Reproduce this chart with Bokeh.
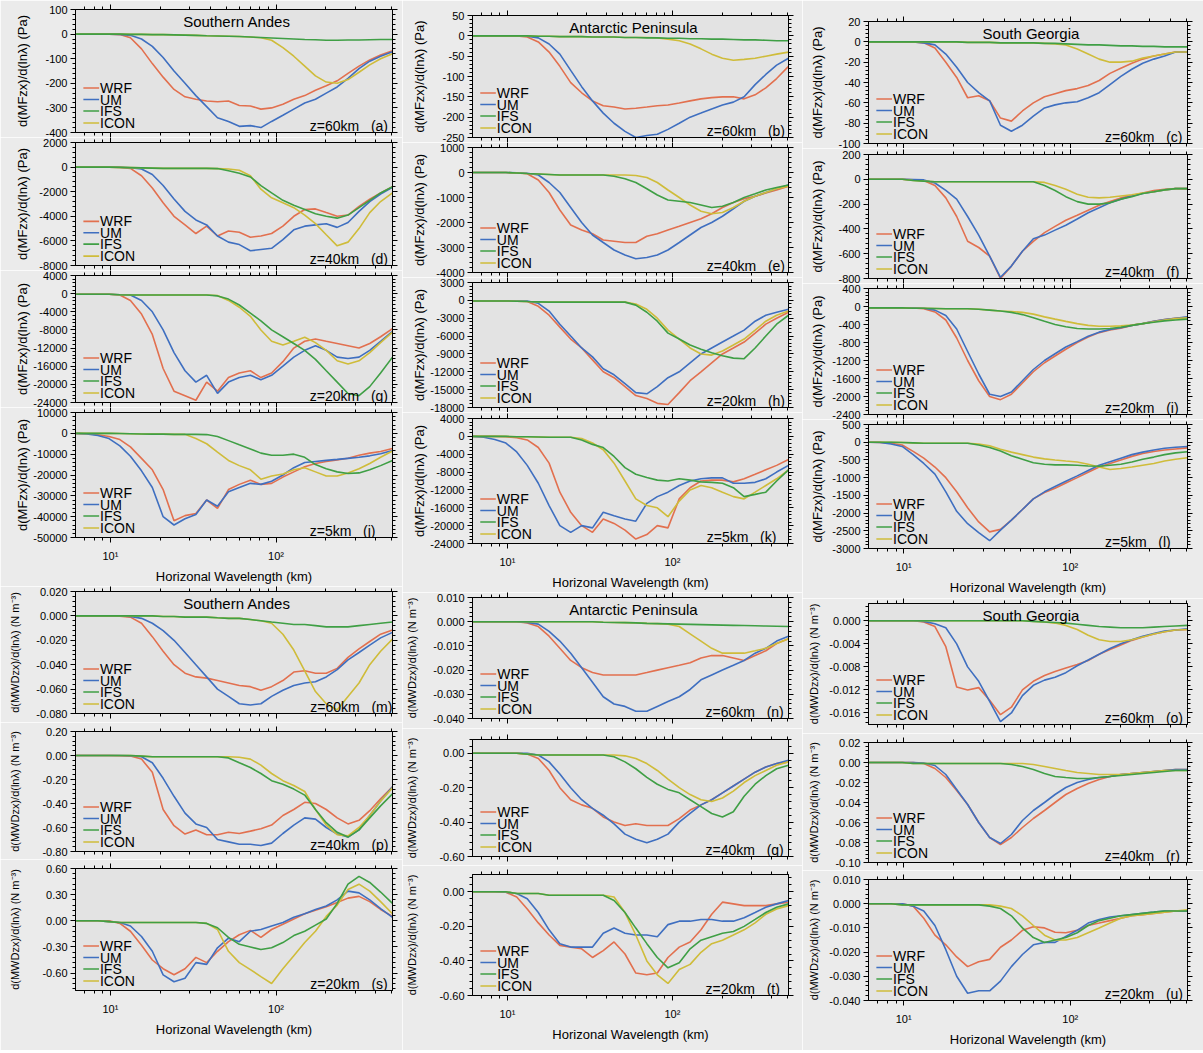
import math

from bokeh.core.properties import value
from bokeh.embed import file_html
from bokeh.layouts import column, row
from bokeh.models import (CustomJSTickFormatter, FixedTicker, LinearAxis, LinearScale,
                          LogAxis, NumeralTickFormatter, Range1d)
from bokeh.plotting import figure
from bokeh.resources import INLINE

# ---------------------------------------------------------------------------
# Data: spectra of zonal momentum flux (MF) and momentum-flux divergence (MWD)
# sampled at these horizontal wavelengths (km)
# ---------------------------------------------------------------------------
wavelength_km = [6.2, 7.2, 8.4, 9.8, 11.4, 13.2, 15.4, 17.9, 20.8, 24.2,
                 28.2, 32.8, 38.1, 44.3, 51.6, 60, 70, 81, 94, 110,
                 128, 149, 173, 201, 234, 272, 317, 368, 428, 505]

models = ["WRF", "UM", "IFS", "ICON"]
regions = ["Southern Andes", "Antarctic Peninsula", "South Georgia"]
x_tick_labels = {10: "10\u00b9", 100: "10\u00b2"}

# (a) Southern Andes, MF, z=60km
a_wrf = [0, 0, 0, 0, -2, -15, -60, -120, -175, -225, -255, -265, -272, -275, -272, -290, -292, -305, -300, -285, -265, -250, -228, -210, -190, -160, -130, -105, -85, -68]
a_um = [0, 0, 0, 0, -1, -5, -20, -50, -95, -150, -200, -250, -295, -340, -355, -375, -372, -380, -355, -330, -305, -280, -265, -240, -215, -180, -140, -110, -90, -72]
a_ifs = [0, 0, 0, 0, 0, -1, -1, -2, -2, -3, -4, -5, -7, -8, -9, -10, -12, -14, -16, -18, -20, -22, -23, -25, -25, -24, -24, -23, -22, -22]
a_icon = [0, 0, 0, 0, 0, -1, -1, -2, -2, -3, -4, -5, -7, -8, -9, -10, -12, -15, -25, -55, -90, -130, -170, -195, -200, -185, -155, -125, -100, -80]

# (d) Southern Andes, MF, z=40km
d_wrf = [0, 0, 0, 0, -20, -100, -700, -1700, -2900, -4000, -4700, -5400, -4800, -5600, -5200, -5300, -5700, -5600, -5400, -4800, -4000, -3450, -3400, -3700, -4000, -3900, -3200, -2600, -2100, -1600]
d_um = [0, 0, 0, 0, -10, -50, -150, -600, -1500, -2600, -3600, -4300, -4700, -5600, -6100, -6300, -6800, -6700, -6600, -5900, -5100, -4800, -4700, -4600, -4900, -4500, -3600, -2800, -2200, -1650]
d_ifs = [0, 0, 0, 0, -20, -40, -60, -80, -100, -100, -100, -100, -100, -120, -300, -500, -800, -1500, -2100, -2700, -3100, -3450, -3800, -4000, -4150, -3900, -3300, -2700, -2100, -1600]
d_icon = [0, 0, 0, 0, -20, -40, -60, -80, -100, -100, -100, -100, -100, -120, -150, -250, -700, -1800, -2500, -2900, -3300, -3900, -4600, -5500, -6400, -6100, -5000, -3700, -2800, -2100]

# (g) Southern Andes, MF, z=20km
g_wrf = [-150, -150, -150, -150, -300, -1500, -4500, -9000, -16500, -21500, -22500, -23500, -19500, -21500, -18500, -17500, -17000, -18500, -17500, -15000, -12000, -10500, -10000, -10500, -11000, -11500, -12000, -11000, -9500, -7700]
g_um = [-150, -150, -150, -150, -250, -300, -1500, -4000, -8000, -13000, -17000, -19500, -18000, -22000, -19500, -18500, -18000, -19000, -18000, -16000, -14000, -12500, -11500, -12500, -14000, -14300, -14000, -12500, -10500, -8300]
g_ifs = [-150, -150, -150, -150, -250, -300, -300, -300, -300, -300, -300, -300, -300, -500, -1200, -2500, -4300, -6000, -8000, -9500, -11000, -12500, -14500, -17000, -19500, -22000, -22500, -20500, -17500, -14000]
g_icon = [-150, -150, -150, -150, -250, -300, -300, -300, -300, -300, -300, -300, -300, -400, -1500, -3000, -5000, -8000, -10500, -11300, -10500, -9600, -10800, -12500, -14800, -15500, -14800, -13000, -10800, -8500]

# (j) Southern Andes, MF, z=5km
j_wrf = [0, -200, -700, -1500, -3000, -6500, -12000, -17500, -27000, -42000, -39500, -38500, -32000, -36000, -27000, -24500, -22500, -24500, -24000, -21000, -18500, -16000, -14500, -13500, -12800, -12000, -10500, -9500, -8700, -7300]
j_um = [0, -300, -1000, -2500, -6000, -11000, -18000, -26000, -40000, -44000, -41000, -39000, -32000, -35000, -28000, -26000, -24000, -24500, -23000, -20000, -16500, -14000, -13500, -13000, -12500, -12000, -11500, -10800, -9800, -8200]
j_ifs = [0, 0, 0, 0, -100, -200, -300, -400, -400, -500, -500, -500, -600, -1500, -3500, -5500, -7500, -9500, -10500, -10500, -10000, -11500, -15000, -17000, -18500, -19300, -19000, -17500, -15500, -13000]
j_icon = [0, 0, 0, 0, -100, -200, -300, -400, -400, -500, -500, -2500, -5000, -9000, -13000, -15500, -17500, -22000, -20500, -19500, -17500, -16500, -18500, -20500, -20500, -19000, -17000, -14500, -11500, -8500]

# (b) Antarctic Peninsula, MF, z=60km
b_wrf = [0, 0, 0, 0, 0, -3, -15, -40, -75, -115, -140, -160, -172, -175, -180, -178, -175, -172, -170, -165, -160, -155, -152, -150, -150, -155, -145, -128, -105, -75]
b_um = [0, 0, 0, 0, 0, -1, -5, -20, -45, -85, -125, -160, -190, -215, -235, -250, -245, -242, -230, -215, -200, -190, -180, -170, -163, -150, -120, -95, -72, -55]
b_ifs = [0, 0, 0, 0, 0, 0, -1, -1, -2, -2, -2, -3, -3, -3, -4, -4, -5, -5, -6, -6, -7, -7, -8, -8, -9, -10, -10, -11, -12, -12]
b_icon = [0, 0, 0, 0, 0, 0, -1, -1, -2, -2, -2, -3, -3, -3, -4, -4, -4, -5, -8, -12, -20, -32, -45, -55, -60, -58, -55, -50, -45, -40]

# (e) Antarctic Peninsula, MF, z=40km
e_wrf = [0, 0, 0, 0, -20, -50, -300, -800, -1500, -2100, -2300, -2450, -2700, -2750, -2800, -2800, -2550, -2450, -2300, -2150, -2000, -1850, -1650, -1400, -1200, -1050, -950, -820, -700, -550]
e_um = [0, 0, 0, 0, -10, -30, -100, -400, -800, -1400, -2000, -2500, -2800, -3100, -3300, -3450, -3400, -3300, -3100, -2800, -2500, -2200, -2000, -1750, -1450, -1150, -950, -800, -650, -500]
e_ifs = [0, 0, 0, 0, -20, -40, -60, -80, -100, -100, -100, -100, -100, -150, -250, -400, -650, -900, -1100, -1150, -1200, -1300, -1400, -1350, -1200, -1000, -850, -700, -600, -500]
e_icon = [0, 0, 0, 0, -20, -40, -60, -80, -100, -100, -100, -100, -100, -100, -100, -120, -200, -400, -700, -1000, -1300, -1550, -1650, -1600, -1400, -1150, -950, -800, -650, -550]

# (h) Antarctic Peninsula, MF, z=20km
h_wrf = [-100, -100, -100, -100, -150, -200, -1000, -2500, -4500, -6500, -8000, -10000, -12000, -13000, -14500, -16000, -16500, -17300, -17500, -15500, -13500, -12000, -10500, -9000, -8000, -7000, -5500, -4000, -3000, -2000]
h_um = [-100, -100, -100, -100, -100, -100, -500, -1800, -4000, -6000, -8000, -9500, -11500, -12500, -14000, -15500, -15700, -14500, -13000, -12000, -10500, -9000, -8000, -7000, -6000, -5000, -3500, -2500, -2000, -1500]
h_ifs = [-100, -100, -100, -100, -150, -200, -250, -300, -300, -300, -300, -300, -300, -300, -300, -800, -2000, -3500, -5500, -6500, -7500, -8200, -8800, -9300, -9700, -9800, -8000, -6000, -4000, -2500]
h_icon = [-100, -100, -100, -100, -150, -200, -250, -300, -300, -300, -300, -300, -300, -300, -300, -600, -1500, -3000, -5000, -6500, -8000, -9000, -9200, -8500, -7500, -6500, -5000, -3500, -2500, -1800]

# (k) Antarctic Peninsula, MF, z=5km
k_wrf = [0, 0, 0, -100, -300, -800, -2500, -6000, -12500, -17000, -20000, -21500, -18500, -19500, -21000, -23000, -22000, -20000, -20500, -14000, -11500, -10000, -9800, -9800, -10200, -9500, -8500, -7500, -6500, -5200]
k_um = [0, -200, -700, -1500, -3500, -6500, -10500, -15500, -20000, -21500, -20000, -20500, -17000, -17800, -18500, -19000, -15000, -13500, -12500, -11000, -10000, -9500, -9300, -9300, -10500, -10500, -10300, -9500, -8000, -6500]
k_ifs = [0, 0, 0, 0, -100, -100, -150, -200, -200, -200, -800, -1800, -2500, -4500, -7000, -8500, -9200, -9800, -10000, -9500, -9800, -10200, -10300, -10500, -11500, -13500, -13000, -12500, -10000, -7500]
k_icon = [0, 0, 0, 0, -100, -100, -150, -200, -200, -200, -500, -1500, -3000, -6000, -10000, -14000, -15500, -16000, -18000, -14500, -12000, -11000, -11500, -12500, -13500, -14000, -12500, -11000, -9500, -7500]

# (c) South Georgia, MF, z=60km
c_wrf = [0, 0, 0, 0, 0, -1, -6, -20, -35, -55, -53, -58, -75, -78, -68, -60, -54, -51, -48, -46, -43, -38, -31, -26, -21, -17, -14, -12, -10, -10]
c_um = [0, 0, 0, 0, 0, -1, -3, -12, -25, -40, -50, -58, -82, -88, -82, -73, -65, -62, -60, -59, -55, -50, -42, -34, -27, -21, -17, -14, -10, -10]
c_ifs = [0, 0, 0, 0, 0, 0, 0, 0, 0, -0.5, -0.5, -0.5, -1, -1, -1, -1, -1.5, -1.5, -2, -2.5, -3, -3, -3.5, -4, -4, -4.5, -4.5, -5, -5, -5]
c_icon = [0, 0, 0, 0, 0, 0, 0, 0, 0, -0.5, -0.5, -0.5, -1, -1, -1, -1, -1.5, -2, -3, -7, -12, -17, -20, -20, -19, -16, -14, -12, -10, -10]

# (f) South Georgia, MF, z=40km
f_wrf = [0, 0, 0, 0, -5, -10, -50, -150, -300, -500, -550, -620, -800, -700, -580, -500, -430, -380, -330, -290, -250, -210, -180, -150, -130, -110, -90, -80, -75, -75]
f_um = [0, 0, 0, 0, -2, -5, -30, -90, -160, -300, -450, -620, -790, -700, -580, -480, -450, -410, -370, -320, -270, -230, -190, -160, -135, -115, -100, -85, -75, -75]
f_ifs = [0, 0, 0, 0, -10, -15, -20, -20, -20, -20, -20, -20, -20, -20, -20, -20, -50, -90, -140, -180, -200, -200, -190, -160, -140, -115, -100, -85, -75, -75]
f_icon = [0, 0, 0, 0, -10, -15, -20, -20, -20, -20, -20, -20, -20, -20, -20, -20, -25, -50, -80, -120, -145, -150, -145, -135, -125, -110, -100, -85, -75, -75]

# (i) South Georgia, MF, z=20km
i_wrf = [-30, -30, -30, -30, -30, -50, -120, -300, -700, -1200, -1650, -2000, -2070, -1950, -1700, -1450, -1250, -1100, -950, -800, -680, -580, -520, -480, -420, -380, -330, -290, -260, -240]
i_um = [-30, -30, -30, -30, -30, -40, -80, -200, -500, -1000, -1500, -1950, -2000, -1900, -1650, -1400, -1200, -1050, -900, -780, -660, -570, -510, -470, -420, -380, -330, -290, -260, -230]
i_ifs = [-30, -30, -30, -30, -40, -40, -45, -50, -50, -50, -60, -80, -100, -130, -180, -250, -330, -400, -450, -490, -500, -500, -490, -460, -420, -380, -350, -320, -300, -280]
i_icon = [-30, -30, -30, -30, -40, -40, -45, -50, -50, -50, -60, -80, -100, -110, -130, -170, -230, -280, -330, -380, -420, -440, -440, -430, -410, -380, -340, -300, -270, -250]

# (l) South Georgia, MF, z=5km
l_wrf = [0, -5, -30, -80, -260, -450, -700, -1000, -1400, -1850, -2250, -2530, -2460, -2200, -1900, -1600, -1420, -1300, -1150, -1000, -850, -700, -600, -500, -400, -320, -260, -220, -190, -160]
l_um = [0, -10, -50, -120, -350, -600, -900, -1400, -1950, -2300, -2550, -2780, -2480, -2200, -1900, -1600, -1400, -1250, -1100, -950, -800, -650, -550, -450, -350, -280, -220, -170, -140, -120]
l_ifs = [0, 0, 0, -10, -20, -30, -30, -30, -30, -30, -80, -150, -250, -380, -480, -580, -620, -640, -640, -650, -670, -680, -650, -620, -560, -480, -420, -350, -300, -270]
l_icon = [0, 0, 0, -10, -20, -30, -30, -30, -30, -30, -50, -100, -200, -280, -350, -420, -470, -500, -530, -560, -620, -700, -770, -740, -700, -650, -600, -530, -480, -440]

# (m) Southern Andes, MWD, z=60km
m_wrf = [0, 0, 0, 0, -0.0003, -0.001, -0.006, -0.017, -0.029, -0.040, -0.047, -0.050, -0.051, -0.053, -0.055, -0.057, -0.058, -0.061, -0.058, -0.053, -0.046, -0.045, -0.047, -0.047, -0.043, -0.034, -0.027, -0.021, -0.015, -0.0115]
m_um = [0, 0, 0, 0, 0, -0.0005, -0.002, -0.006, -0.012, -0.020, -0.030, -0.040, -0.050, -0.060, -0.066, -0.072, -0.073, -0.072, -0.066, -0.061, -0.057, -0.055, -0.054, -0.050, -0.044, -0.036, -0.030, -0.024, -0.018, -0.0135]
m_ifs = [0, 0, 0, 0, 0, 0, 0, 0, -0.0005, -0.0005, -0.001, -0.001, -0.001, -0.0015, -0.002, -0.002, -0.003, -0.004, -0.005, -0.006, -0.007, -0.007, -0.008, -0.009, -0.009, -0.009, -0.008, -0.007, -0.006, -0.005]
m_icon = [0, 0, 0, 0, 0, 0, 0, 0, -0.0005, -0.0005, -0.001, -0.001, -0.001, -0.0015, -0.002, -0.002, -0.003, -0.004, -0.006, -0.015, -0.028, -0.045, -0.062, -0.072, -0.077, -0.066, -0.055, -0.040, -0.029, -0.019]

# (p) Southern Andes, MWD, z=40km
p_wrf = [0, 0, 0, 0, -0.002, -0.005, -0.03, -0.14, -0.45, -0.585, -0.655, -0.62, -0.66, -0.66, -0.64, -0.65, -0.63, -0.61, -0.58, -0.50, -0.45, -0.39, -0.40, -0.45, -0.52, -0.57, -0.54, -0.46, -0.36, -0.26]
p_um = [0, 0, 0, 0, 0, -0.002, -0.01, -0.06, -0.19, -0.34, -0.48, -0.57, -0.60, -0.70, -0.72, -0.74, -0.74, -0.75, -0.73, -0.65, -0.58, -0.52, -0.53, -0.60, -0.655, -0.68, -0.62, -0.50, -0.38, -0.26]
p_ifs = [0, 0, 0, 0, 0, 0, -0.005, -0.01, -0.01, -0.01, -0.01, -0.01, -0.01, -0.01, -0.02, -0.06, -0.10, -0.15, -0.21, -0.24, -0.28, -0.33, -0.45, -0.56, -0.64, -0.68, -0.62, -0.52, -0.42, -0.32]
p_icon = [0, 0, 0, 0, 0, 0, -0.005, -0.01, -0.01, -0.01, -0.01, -0.01, -0.01, -0.01, -0.01, -0.015, -0.03, -0.08, -0.15, -0.21, -0.25, -0.30, -0.45, -0.58, -0.66, -0.67, -0.60, -0.50, -0.38, -0.27]

# (s) Southern Andes, MWD, z=20km
s_wrf = [0, 0, 0, 0, -0.03, -0.12, -0.28, -0.45, -0.55, -0.62, -0.55, -0.42, -0.48, -0.35, -0.24, -0.16, -0.11, -0.19, -0.10, -0.04, 0.02, 0.08, 0.12, 0.16, 0.21, 0.26, 0.28, 0.22, 0.13, 0.05]
s_um = [0, 0, 0, -0.01, -0.02, -0.06, -0.18, -0.35, -0.62, -0.70, -0.66, -0.48, -0.50, -0.31, -0.20, -0.24, -0.12, -0.10, -0.06, -0.02, 0.04, 0.08, 0.13, 0.17, 0.24, 0.34, 0.32, 0.24, 0.14, 0.04]
s_ifs = [0, 0, 0, -0.01, -0.02, -0.02, -0.02, -0.02, -0.02, -0.02, -0.02, -0.02, -0.03, -0.08, -0.19, -0.27, -0.30, -0.33, -0.31, -0.25, -0.17, -0.12, -0.05, 0.02, 0.20, 0.42, 0.51, 0.44, 0.33, 0.20]
s_icon = [0, 0, 0, -0.01, -0.02, -0.02, -0.02, -0.02, -0.02, -0.02, -0.02, -0.02, -0.03, -0.10, -0.35, -0.48, -0.56, -0.64, -0.72, -0.55, -0.40, -0.25, -0.12, 0.05, 0.18, 0.36, 0.42, 0.34, 0.22, 0.08]

# (n) Antarctic Peninsula, MWD, z=60km
n_wrf = [0, 0, 0, 0, 0, -0.0005, -0.002, -0.006, -0.011, -0.016, -0.019, -0.021, -0.022, -0.022, -0.022, -0.022, -0.021, -0.020, -0.019, -0.018, -0.017, -0.015, -0.014, -0.014, -0.015, -0.016, -0.014, -0.012, -0.009, -0.007]
n_um = [0, 0, 0, 0, 0, -0.0003, -0.001, -0.004, -0.008, -0.013, -0.019, -0.025, -0.031, -0.034, -0.035, -0.037, -0.037, -0.035, -0.033, -0.031, -0.028, -0.024, -0.022, -0.020, -0.018, -0.016, -0.013, -0.011, -0.008, -0.006]
n_ifs = [0, 0, 0, 0, 0, 0, 0, 0, 0, 0, 0, 0, -0.0002, -0.0003, -0.0004, -0.0005, -0.0007, -0.0008, -0.0009, -0.001, -0.0011, -0.0012, -0.0013, -0.0014, -0.0015, -0.0016, -0.0017, -0.0018, -0.0019, -0.002]
n_icon = [0, 0, 0, 0, 0, 0, 0, 0, 0, 0, 0, 0, -0.0002, -0.0003, -0.0004, -0.0005, -0.0007, -0.0008, -0.001, -0.002, -0.005, -0.008, -0.011, -0.013, -0.013, -0.013, -0.012, -0.011, -0.009, -0.007]

# (q) Antarctic Peninsula, MWD, z=40km
q_wrf = [0, 0, 0, 0, 0, -0.005, -0.03, -0.10, -0.20, -0.27, -0.30, -0.32, -0.37, -0.40, -0.42, -0.41, -0.42, -0.42, -0.42, -0.38, -0.33, -0.30, -0.27, -0.23, -0.19, -0.15, -0.11, -0.08, -0.06, -0.05]
q_um = [0, 0, 0, 0, 0, 0, -0.01, -0.05, -0.12, -0.20, -0.27, -0.32, -0.36, -0.41, -0.47, -0.50, -0.52, -0.50, -0.47, -0.40, -0.35, -0.30, -0.27, -0.23, -0.19, -0.15, -0.11, -0.08, -0.06, -0.04]
q_ifs = [0, 0, 0, 0, 0, -0.005, -0.01, -0.01, -0.01, -0.01, -0.01, -0.01, -0.01, -0.02, -0.05, -0.09, -0.14, -0.18, -0.21, -0.23, -0.27, -0.31, -0.35, -0.37, -0.34, -0.25, -0.18, -0.13, -0.09, -0.07]
q_icon = [0, 0, 0, 0, 0, -0.005, -0.01, -0.01, -0.01, -0.01, -0.01, -0.01, -0.01, -0.01, -0.015, -0.03, -0.06, -0.10, -0.15, -0.20, -0.24, -0.27, -0.28, -0.26, -0.22, -0.17, -0.13, -0.10, -0.07, -0.05]

# (t) Antarctic Peninsula, MWD, z=20km
t_wrf = [0, 0, 0, -0.003, -0.03, -0.10, -0.18, -0.25, -0.31, -0.32, -0.33, -0.38, -0.34, -0.29, -0.36, -0.47, -0.48, -0.47, -0.38, -0.32, -0.29, -0.22, -0.13, -0.06, -0.07, -0.08, -0.08, -0.08, -0.07, -0.06]
t_um = [0, 0, 0, -0.002, -0.01, -0.04, -0.12, -0.22, -0.30, -0.32, -0.32, -0.32, -0.24, -0.21, -0.24, -0.25, -0.25, -0.26, -0.19, -0.17, -0.17, -0.16, -0.16, -0.17, -0.17, -0.15, -0.12, -0.09, -0.07, -0.05]
t_ifs = [0, 0, 0, 0, -0.01, -0.01, -0.01, -0.02, -0.02, -0.02, -0.02, -0.02, -0.02, -0.05, -0.12, -0.21, -0.30, -0.38, -0.44, -0.41, -0.33, -0.28, -0.26, -0.24, -0.23, -0.20, -0.16, -0.12, -0.09, -0.07]
t_icon = [0, 0, 0, 0, -0.01, -0.01, -0.01, -0.02, -0.02, -0.02, -0.02, -0.02, -0.02, -0.03, -0.12, -0.25, -0.40, -0.48, -0.53, -0.45, -0.42, -0.35, -0.30, -0.28, -0.25, -0.22, -0.18, -0.13, -0.10, -0.08]

# (o) South Georgia, MWD, z=60km
o_wrf = [0, 0, 0, 0, 0, -0.0002, -0.001, -0.0045, -0.0115, -0.0120, -0.0116, -0.0138, -0.0163, -0.0150, -0.0120, -0.0105, -0.0095, -0.0088, -0.0082, -0.0076, -0.0069, -0.0058, -0.0050, -0.0042, -0.0034, -0.0028, -0.0023, -0.0019, -0.0016, -0.0015]
o_um = [0, 0, 0, 0, 0, -0.0001, -0.0005, -0.0012, -0.0040, -0.0080, -0.0105, -0.0140, -0.0175, -0.0160, -0.0130, -0.0112, -0.0103, -0.0098, -0.0090, -0.0078, -0.0068, -0.0058, -0.0048, -0.0040, -0.0033, -0.0027, -0.0022, -0.0018, -0.0016, -0.0014]
o_ifs = [0, 0, 0, 0, 0, 0, 0, 0, 0, 0, 0, 0, 0, 0, 0, -0.0001, -0.0002, -0.0003, -0.0004, -0.0006, -0.0008, -0.0010, -0.0011, -0.0012, -0.0012, -0.0012, -0.0011, -0.0010, -0.0009, -0.0008]
o_icon = [0, 0, 0, 0, 0, 0, 0, 0, 0, 0, 0, 0, 0, 0, 0, -0.0001, -0.0002, -0.0004, -0.0008, -0.0015, -0.0025, -0.0033, -0.0036, -0.0036, -0.0033, -0.0028, -0.0023, -0.0019, -0.0016, -0.0015]

# (r) South Georgia, MWD, z=40km
r_wrf = [0, 0, 0, 0, 0, -0.001, -0.006, -0.015, -0.028, -0.042, -0.060, -0.075, -0.082, -0.075, -0.065, -0.056, -0.048, -0.040, -0.032, -0.026, -0.021, -0.017, -0.014, -0.012, -0.011, -0.010, -0.009, -0.008, -0.007, -0.007]
r_um = [0, 0, 0, 0, 0, -0.0005, -0.003, -0.012, -0.027, -0.042, -0.060, -0.075, -0.081, -0.072, -0.058, -0.048, -0.040, -0.032, -0.025, -0.020, -0.017, -0.015, -0.014, -0.012, -0.011, -0.010, -0.009, -0.008, -0.007, -0.007]
r_ifs = [0, 0, 0, 0, -0.001, -0.001, -0.001, -0.001, -0.001, -0.001, -0.001, -0.001, -0.001, -0.002, -0.004, -0.007, -0.011, -0.014, -0.015, -0.016, -0.016, -0.015, -0.014, -0.013, -0.012, -0.011, -0.010, -0.009, -0.008, -0.008]
r_icon = [0, 0, 0, 0, -0.001, -0.001, -0.001, -0.001, -0.001, -0.001, -0.001, -0.001, -0.001, -0.001, -0.001, -0.002, -0.004, -0.006, -0.008, -0.010, -0.011, -0.012, -0.012, -0.012, -0.011, -0.010, -0.009, -0.008, -0.008, -0.008]

# (u) South Georgia, MWD, z=20km
u_wrf = [0, 0, 0, 0, -0.001, -0.006, -0.013, -0.017, -0.022, -0.026, -0.024, -0.023, -0.018, -0.015, -0.011, -0.0095, -0.010, -0.0118, -0.012, -0.011, -0.009, -0.008, -0.007, -0.006, -0.005, -0.0045, -0.004, -0.0035, -0.003, -0.003]
u_um = [0, 0, 0, 0, -0.001, -0.003, -0.009, -0.019, -0.030, -0.037, -0.036, -0.036, -0.032, -0.026, -0.021, -0.017, -0.016, -0.016, -0.0135, -0.011, -0.008, -0.0065, -0.0055, -0.005, -0.0045, -0.004, -0.0035, -0.003, -0.003, -0.003]
u_ifs = [0, 0, 0, -0.0005, -0.0005, -0.0005, -0.0005, -0.0005, -0.0005, -0.0005, -0.0005, -0.001, -0.002, -0.005, -0.010, -0.014, -0.016, -0.015, -0.014, -0.012, -0.009, -0.007, -0.006, -0.005, -0.0045, -0.004, -0.0035, -0.003, -0.003, -0.003]
u_icon = [0, 0, 0, -0.0005, -0.0005, -0.0005, -0.0005, -0.0005, -0.0005, -0.0005, -0.0005, -0.0005, -0.001, -0.002, -0.005, -0.009, -0.013, -0.015, -0.015, -0.014, -0.012, -0.010, -0.008, -0.006, -0.005, -0.0045, -0.004, -0.0035, -0.003, -0.0025]

# ---------------------------------------------------------------------------
# Styling
# ---------------------------------------------------------------------------
FONT = "Liberation Sans"
PAGE_BG = "#ebebeb"
PLOT_BG = "#e3e3e3"
LINE_COLORS = {"WRF": "#e2704f", "UM": "#3f6fc0", "IFS": "#3f9f45", "ICON": "#cfbc3a"}
DRAW_ORDER = ["WRF", "UM", "ICON", "IFS"]
X_LIMITS = (6.15, 505)
X_MINOR = [7, 8, 9, 20, 30, 40, 50, 60, 70, 80, 90, 200, 300, 400, 500]
MF_LABEL = "d(MFzx)/d(lnλ) (Pa)"
MWD_LABEL = "d(MWDzx)/d(lnλ) (N m⁻³)"
X_LABEL = "Horizonal Wavelength (km)"


def series(wrf, um, ifs, icon):
    return {"WRF": wrf, "UM": um, "IFS": ifs, "ICON": icon}


# series, y limits, major tick step, tick format, y label, height label, region title
PANELS = {
    "a": (series(a_wrf, a_um, a_ifs, a_icon), (-400, 100), 100, "0", MF_LABEL, "z=60km", regions[0]),
    "d": (series(d_wrf, d_um, d_ifs, d_icon), (-8000, 2000), 2000, "0", MF_LABEL, "z=40km", None),
    "g": (series(g_wrf, g_um, g_ifs, g_icon), (-24000, 4000), 4000, "0", MF_LABEL, "z=20km", None),
    "j": (series(j_wrf, j_um, j_ifs, j_icon), (-50000, 10000), 10000, "0", MF_LABEL, "z=5km", None),
    "b": (series(b_wrf, b_um, b_ifs, b_icon), (-250, 50), 50, "0", MF_LABEL, "z=60km", regions[1]),
    "e": (series(e_wrf, e_um, e_ifs, e_icon), (-4000, 1000), 1000, "0", MF_LABEL, "z=40km", None),
    "h": (series(h_wrf, h_um, h_ifs, h_icon), (-18000, 3000), 3000, "0", MF_LABEL, "z=20km", None),
    "k": (series(k_wrf, k_um, k_ifs, k_icon), (-24000, 4000), 4000, "0", MF_LABEL, "z=5km", None),
    "c": (series(c_wrf, c_um, c_ifs, c_icon), (-100, 20), 20, "0", MF_LABEL, "z=60km", regions[2]),
    "f": (series(f_wrf, f_um, f_ifs, f_icon), (-800, 200), 200, "0", MF_LABEL, "z=40km", None),
    "i": (series(i_wrf, i_um, i_ifs, i_icon), (-2400, 400), 400, "0", MF_LABEL, "z=20km", None),
    "l": (series(l_wrf, l_um, l_ifs, l_icon), (-3000, 500), 500, "0", MF_LABEL, "z=5km", None),
    "m": (series(m_wrf, m_um, m_ifs, m_icon), (-0.08, 0.02), 0.02, "0.000", MWD_LABEL, "z=60km", regions[0]),
    "p": (series(p_wrf, p_um, p_ifs, p_icon), (-0.8, 0.2), 0.2, "0.00", MWD_LABEL, "z=40km", None),
    "s": (series(s_wrf, s_um, s_ifs, s_icon), (-0.8, 0.6), 0.3, "0.00", MWD_LABEL, "z=20km", None),
    "n": (series(n_wrf, n_um, n_ifs, n_icon), (-0.04, 0.01), 0.01, "0.000", MWD_LABEL, "z=60km", regions[1]),
    "q": (series(q_wrf, q_um, q_ifs, q_icon), (-0.6, 0.08), 0.2, "0.00", MWD_LABEL, "z=40km", None),
    "t": (series(t_wrf, t_um, t_ifs, t_icon), (-0.6, 0.1), 0.2, "0.00", MWD_LABEL, "z=20km", None),
    "o": (series(o_wrf, o_um, o_ifs, o_icon), (-0.018, 0.003), 0.004, "0.000", MWD_LABEL, "z=60km", regions[2]),
    "r": (series(r_wrf, r_um, r_ifs, r_icon), (-0.1, 0.02), 0.02, "0.00", MWD_LABEL, "z=40km", None),
    "u": (series(u_wrf, u_um, u_ifs, u_icon), (-0.04, 0.01), 0.01, "0.000", MWD_LABEL, "z=20km", None),
}

# Page layout: three columns, each with an MF block and an MWD block.
# Frames are given as (panel, top, bottom) in page pixels.
COLUMNS = [
    dict(width=402, sections=[
        dict(left=75, frame_w=322, label_off=50,
             panels=[("a", 9, 132), ("d", 142, 266), ("g", 275, 402), ("j", 412, 537)]),
        dict(left=68, frame_w=324, label_off=58,
             panels=[("m", 591, 713), ("p", 731, 851), ("s", 868, 990)]),
    ]),
    dict(width=400, sections=[
        dict(left=70, frame_w=325, label_off=50,
             panels=[("b", 15, 137), ("e", 147, 272), ("h", 282, 407), ("k", 418, 543)]),
        dict(left=66, frame_w=320, label_off=58,
             panels=[("n", 597, 718), ("q", 739, 856), ("t", 874, 995)]),
    ]),
    dict(width=401, sections=[
        dict(left=66, frame_w=325, label_off=48,
             panels=[("c", 21, 143), ("f", 154, 278), ("i", 288, 414), ("l", 424, 548)]),
        dict(left=61, frame_w=324, label_off=52,
             panels=[("o", 603, 724), ("r", 742, 862), ("u", 879, 1000)]),
    ]),
]
PAGE_HEIGHT = 1050


def y_ticks(lo, hi, step):
    sub = step / 5.0
    major, minor = [], []
    for k in range(math.ceil(lo / sub - 1e-9), math.floor(hi / sub + 1e-9) + 1):
        v = round(k * sub, 6) + 0.0
        (major if k % 5 == 0 else minor).append(v)
    return major, minor


def fmt_tick(v, fmt):
    if "." not in fmt:
        return str(int(round(v)))
    return f"{v:.{len(fmt.split('.')[1])}f}"


def text_width(text, size):
    em = {"-": 0.333, ".": 0.278}
    return sum(em.get(ch, 0.556) for ch in text) * size


def style_axis(ax):
    ax.axis_line_color = "black"
    ax.axis_line_width = 1
    ax.major_tick_line_color = "black"
    ax.minor_tick_line_color = "black"
    ax.major_tick_in = 0
    ax.major_tick_out = 5
    ax.minor_tick_in = 0
    ax.minor_tick_out = 3
    ax.major_label_text_font = FONT
    ax.major_label_text_font_size = "11px"
    ax.major_label_text_color = "black"


def blank_labels(ax):
    ax.formatter = CustomJSTickFormatter(code="return ''")
    ax.major_label_text_font_size = "1px"
    ax.major_label_standoff = 0


def make_panel(key, sec, total_w, top_b, frame_h, bot_b, bottom_row):
    data, ylim, step, fmt, ylabel, zlabel, title = PANELS[key]
    left, frame_w = sec["left"], sec["frame_w"]
    p = figure(width=total_w, height=top_b + frame_h + bot_b, x_axis_type="log",
               x_range=Range1d(*X_LIMITS), y_range=Range1d(*ylim),
               min_border_left=left, min_border_right=total_w - left - frame_w,
               min_border_top=top_b, min_border_bottom=bot_b,
               background_fill_color=PLOT_BG, border_fill_color=PAGE_BG,
               outline_line_color="black", output_backend="svg", toolbar_location=None)
    p.grid.visible = False

    # wavelength axes (bottom labelled only under the last panel of a block)
    xb = p.xaxis[0]
    style_axis(xb)
    xb.ticker = FixedTicker(ticks=[10, 100], minor_ticks=X_MINOR)
    if bottom_row:
        xb.major_label_overrides = x_tick_labels
        xb.major_label_standoff = 7
        xb.axis_label = X_LABEL
        xb.axis_label_text_font = FONT
        xb.axis_label_text_font_size = "13px"
        xb.axis_label_text_font_style = "normal"
        xb.axis_label_text_color = "black"
        xb.axis_label_standoff = 4
    else:
        blank_labels(xb)
    xt = LogAxis(ticker=FixedTicker(ticks=[10, 100], minor_ticks=X_MINOR))
    style_axis(xt)
    blank_labels(xt)
    p.add_layout(xt, "above")

    # value axes
    major, minor = y_ticks(ylim[0], ylim[1], step)
    yl = p.yaxis[0]
    style_axis(yl)
    yl.ticker = FixedTicker(ticks=major, minor_ticks=minor)
    yl.formatter = NumeralTickFormatter(format=fmt)
    yl.major_label_standoff = 3
    lab_size = 13 if ylabel == MF_LABEL else 11
    yl.axis_label = ylabel
    yl.axis_label_text_font = FONT
    yl.axis_label_text_font_size = f"{lab_size}px"
    yl.axis_label_text_font_style = "normal"
    yl.axis_label_text_color = "black"
    widest = max(text_width(fmt_tick(v, fmt), 11) for v in major)
    yl.axis_label_standoff = max(0, int(round(sec["label_off"] - 0.6 * lab_size - 8 - widest)))
    yr = LinearAxis(ticker=FixedTicker(ticks=major, minor_ticks=minor))
    style_axis(yr)
    blank_labels(yr)
    p.add_layout(yr, "right")

    # spectra
    for name in DRAW_ORDER:
        p.line(wavelength_km, data[name], line_color=LINE_COLORS[name], line_width=1.6)

    # in-frame annotations placed in frame pixel units
    p.extra_x_ranges = {"px": Range1d(0, frame_w)}
    p.extra_y_ranges = {"px": Range1d(0, frame_h)}
    p.extra_x_scales = {"px": LinearScale()}
    p.extra_y_scales = {"px": LinearScale()}
    rows_y = [44.5, 33, 21.5, 9.5]
    p.segment(x0=[8] * 4, y0=rows_y, x1=[24] * 4, y1=rows_y,
              line_color=[LINE_COLORS[m] for m in models], line_width=1.6,
              x_range_name="px", y_range_name="px")
    p.text(x=[25] * 4, y=rows_y, text=models, text_font=value(FONT), text_font_size="14px",
           text_baseline="middle", text_color="black", x_range_name="px", y_range_name="px")
    p.text(x=[frame_w - 84], y=[7], text=[f"{zlabel}\u00a0\u00a0\u00a0({key})"],
           text_font=value(FONT), text_font_size="14px", text_baseline="middle",
           text_color="black", x_range_name="px", y_range_name="px")
    if title:
        p.text(x=[frame_w / 2 + 3], y=[frame_h - 12], text=[title], text_align="center",
               text_font=value(FONT), text_font_size="15px", text_baseline="middle",
               text_color="black", x_range_name="px", y_range_name="px")
    return p


def build_column(spec):
    entries = []
    for sec in spec["sections"]:
        for idx, (key, top, bot) in enumerate(sec["panels"]):
            entries.append((key, top, bot, idx == len(sec["panels"]) - 1, sec))
    bounds = [0]
    for i in range(len(entries) - 1):
        _, _, bot, last, _ = entries[i]
        next_top = entries[i + 1][1]
        bounds.append(next_top - 5 if last else (bot + next_top) // 2)
    bounds.append(PAGE_HEIGHT)
    figs = []
    for i, (key, top, bot, last, sec) in enumerate(entries):
        figs.append(make_panel(key, sec, spec["width"], top - bounds[i], bot - top,
                               bounds[i + 1] - bot, last))
    return column(*figs, spacing=0)


page = row(*[build_column(spec) for spec in COLUMNS], spacing=0)

with open("out.html", "w") as fh:
    fh.write(file_html(page, INLINE, title="Momentum flux spectra"))
